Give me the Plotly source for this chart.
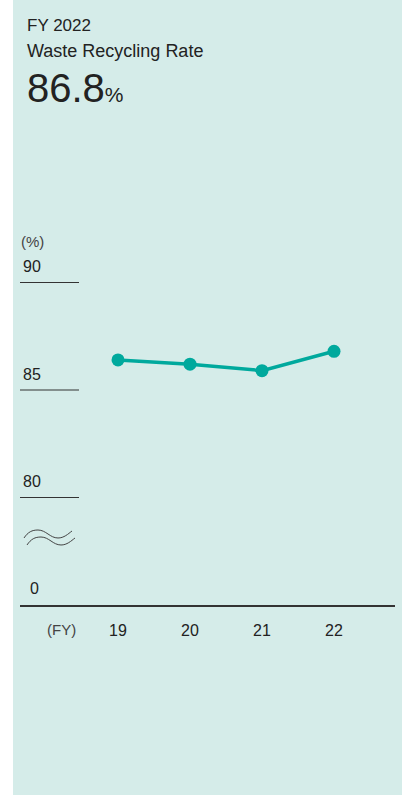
import plotly.graph_objects as go

# ---- data ----
years = ["19", "20", "21", "22"]
rates = [86.4, 86.2, 85.9, 86.8]
y_tick_values = [90, 85, 80]
y_tick_labels = ["90", "85", "80"]
zero_label = "0"
headline_year = "FY 2022"
headline_title = "Waste Recycling Rate"
headline_value = "86.8"

# ---- layout geometry (pixels) ----
W, H = 404, 795
L, R, T, B = 20, 9, 261, 190
pw = W - L - R
ph = H - T - B
AX_MIN, AX_MAX = 75, 91          # broken axis: 0 drawn at 75

TEXT = "#222222"
TEAL = "#00A99D"
PANEL = "#D5ECE9"
FONT = "Liberation Sans, Arial, sans-serif"


def px_x(x):
    return (x - L) / pw


def px_y(y):
    return (H - B - y) / ph


def wave_path(pts):
    out = []
    for tok in pts.split():
        if "," in tok:
            a, b = tok.split(",")
            out.append(f"{px_x(float(a)):.5f},{px_y(float(b)):.5f}")
        else:
            out.append(tok)
    return " ".join(out)


xs = list(range(len(years)))
fig = go.Figure()
fig.add_trace(go.Scatter(
    x=xs, y=rates, mode="lines+markers",
    line=dict(color=TEAL, width=3.5),
    marker=dict(color=TEAL, size=13),
    hoverinfo="skip", showlegend=False,
))

shapes = [
    dict(type="rect", xref="paper", yref="paper", layer="below",
         x0=px_x(13), x1=px_x(402), y0=px_y(0), y1=px_y(795),
         fillcolor=PANEL, line=dict(width=0)),
]
for v in y_tick_values:
    shapes.append(dict(type="line", xref="paper", yref="y",
                       x0=0, x1=px_x(79), y0=v, y1=v,
                       line=dict(color="#333333", width=1.2)))
# axis-break symbol
shapes.append(dict(type="path", xref="paper", yref="paper",
                   path=wave_path("M 24,538 C 28,532 32,530 38,530 C 46,530 50,538 58,538 C 64,538 68,534 72,531"),
                   line=dict(color="#444444", width=1)))
shapes.append(dict(type="path", xref="paper", yref="paper",
                   path=wave_path("M 27,545 C 31,539 35,537 41,537 C 49,537 53,545 61,545 C 67,545 71,541 75,538"),
                   line=dict(color="#444444", width=1)))

ann = []
for v, t in zip(y_tick_values, y_tick_labels):
    ann.append(dict(xref="paper", yref="y", x=px_x(43), y=v, yshift=16,
                    text=t, showarrow=False, xanchor="right", yanchor="middle",
                    font=dict(size=16, color=TEXT, family=FONT)))
ann.append(dict(xref="paper", yref="y", x=px_x(41), y=AX_MIN, yshift=17,
                text=zero_label, showarrow=False, xanchor="right", yanchor="middle",
                font=dict(size=16, color=TEXT, family=FONT)))
ann.append(dict(xref="paper", yref="paper", x=px_x(19), y=px_y(242),
                text="(%)", showarrow=False, xanchor="left", yanchor="middle",
                font=dict(size=15, color="#444444", family=FONT)))
ann.append(dict(xref="paper", yref="paper", x=px_x(61), y=px_y(629),
                text="(FY)", showarrow=False, xanchor="center", yanchor="middle",
                font=dict(size=15, color="#444444", family=FONT)))
ann.append(dict(xref="paper", yref="paper", x=px_x(25), y=px_y(26),
                text=headline_year, showarrow=False, xanchor="left", yanchor="middle",
                font=dict(size=17, color=TEXT, family=FONT)))
ann.append(dict(xref="paper", yref="paper", x=px_x(25), y=px_y(51),
                text=headline_title, showarrow=False, xanchor="left", yanchor="middle",
                font=dict(size=18, color=TEXT, family=FONT)))
ann.append(dict(xref="paper", yref="paper", x=px_x(25), y=px_y(88),
                text=headline_value + "<span style='font-size:21px'>%</span>",
                showarrow=False, xanchor="left", yanchor="middle",
                font=dict(size=40, color=TEXT, family=FONT)))

fig.update_layout(
    width=W, height=H,
    margin=dict(l=L, r=R, t=T, b=B, pad=0),
    paper_bgcolor="white", plot_bgcolor="rgba(0,0,0,0)",
    shapes=shapes, annotations=ann,
    xaxis=dict(range=[(20 - 118) / 72, (395 - 118) / 72],
               tickvals=xs, ticktext=years,
               showgrid=False, zeroline=False,
               showline=True, linecolor="#333333", linewidth=1.5,
               ticks="outside", ticklen=10, tickcolor="rgba(0,0,0,0)",
               tickfont=dict(size=16, color=TEXT, family=FONT),
               fixedrange=True),
    yaxis=dict(range=[AX_MIN, AX_MAX], visible=False, fixedrange=True),
    showlegend=False,
)

fig.write_html("out.html", config={"displayModeBar": False, "staticPlot": True})

with open("out.html", encoding="utf-8") as f:
    html = f.read()
html = html.replace("<body>", "<body style=\"margin:0;padding:0;overflow:hidden\">", 1)
with open("out.html", "w", encoding="utf-8") as f:
    f.write(html)
